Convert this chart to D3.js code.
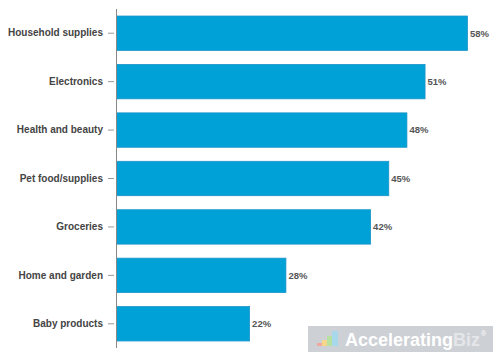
<!DOCTYPE html>
<html><head><meta charset="utf-8">
<script src="https://cdn.jsdelivr.net/npm/d3@7"></script>
<style>body{margin:0;background:#fff}svg{display:block}</style>
</head><body>
<svg id="c" width="500" height="358"></svg>
<script>
const categories = ["Household supplies","Electronics","Health and beauty","Pet food/supplies","Groceries","Home and garden","Baby products"];
const values = [58,51,48,45,42,28,22];
const valueLabels = ["58%","51%","48%","45%","42%","28%","22%"];

const svg = d3.select("#c");
const x = d3.scaleLinear().domain([0,60]).range([116,479]);
const y = d3.scaleBand().domain(categories).range([9,348]).paddingInner(0.29).paddingOuter(0.145);

const font = "'Liberation Sans', Arial, Helvetica, sans-serif";

svg.selectAll("rect.bar").data(values).enter().append("rect")
  .attr("class","bar")
  .attr("x", x(0)+0.5)
  .attr("y", (d,i)=>y(categories[i]))
  .attr("width", d=>x(d)-x(0))
  .attr("height", y.bandwidth())
  .attr("fill","#00a1d7")
  .attr("stroke","#1a93c8")
  .attr("stroke-width",0.8);

svg.selectAll("text.val").data(values).enter().append("text")
  .attr("class","val")
  .attr("x", d=>x(d)+3)
  .attr("y", (d,i)=>y(categories[i])+y.bandwidth()/2)
  .attr("dy","0.35em")
  .attr("font-family",font).attr("font-weight","bold").attr("font-size","9.5px")
  .attr("fill","#555")
  .text((d,i)=>valueLabels[i]);

const ax = svg.append("g").attr("transform",`translate(${x(0)},0)`)
  .call(d3.axisLeft(y).tickSize(7).tickPadding(5));
ax.select(".domain").attr("stroke","#888").attr("d",`M0.5,9V348`);
ax.selectAll(".tick line").attr("stroke","#999").attr("x1",-2).attr("x2",-8);
ax.selectAll(".tick text").attr("font-family",font).attr("font-weight","bold")
  .attr("font-size","10px").attr("fill","#444").attr("x",-13);

// watermark
const wm = svg.append("g");
wm.append("rect").attr("x",308).attr("y",326).attr("width",185).attr("height",26).attr("fill","#cdd0d5");
const ic = [[317,343,5,3,"#f2a6a0"],[322,340,5,6,"#f5d68a"],[327,336,5,10,"#b8e0a0"],[332,331,6,15,"#a7d8ec"]];
wm.selectAll("rect.ic").data(ic).enter().append("rect").attr("class","ic")
  .attr("x",d=>d[0]).attr("y",d=>d[1]).attr("width",d=>d[2]).attr("height",d=>d[3]).attr("fill",d=>d[4]);
const t = wm.append("text").attr("x",345).attr("y",346).attr("font-family",font)
  .attr("font-weight","bold").attr("font-size","18px");
t.append("tspan").attr("fill","#ffffff").text("Accelerating");
t.append("tspan").attr("fill","#e4e6ea").text("Biz");
wm.append("text").attr("x",481).attr("y",336).attr("font-family",font).attr("font-size","7px").attr("fill","#fff").text("®");
</script>
</body></html>
